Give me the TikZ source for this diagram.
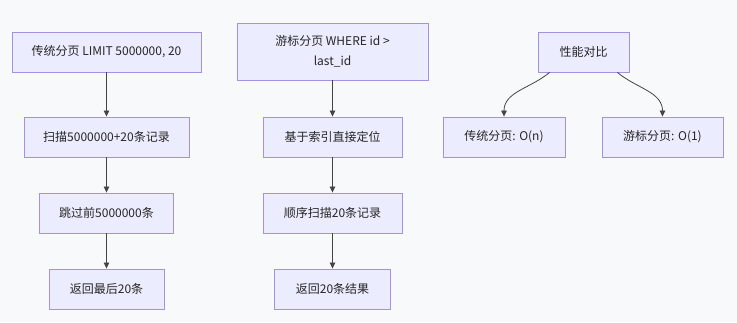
\documentclass[tikz,border=0pt]{standalone}
\usepackage{fontspec}
\setmainfont{Noto Sans CJK SC}
\usepackage{xcolor}
\usetikzlibrary{arrows.meta, positioning}
\definecolor{bgcol}{HTML}{F8F9FB}
\definecolor{boxfill}{HTML}{ECECFF}
\definecolor{boxline}{HTML}{A890E0}
\definecolor{linkcol}{HTML}{444444}

\begin{document}
\begin{tikzpicture}[
    x=1pt, y=-1pt,
    box/.style={
        draw=boxline,
        line width=0.9pt,
        fill=boxfill,
        minimum height=40pt,
        inner sep=0pt,
        align=center,
        font=\fontsize{12}{20}\selectfont,
        text=black!85
    },
    link/.style={
        draw=linkcol,
        line width=0.8pt,
        -{Triangle[length=6pt,width=5.5pt]}
    }
]
% background
\fill[bgcol] (0,0) rectangle (737,322);
\useasboundingbox (0,0) rectangle (737,322);

% traditional paging
\node[box, minimum width=189pt] (t1) at (106.5,52) {传统分页 LIMIT 5000000, 20};
\node[box, minimum width=165pt] (t2) at (106.5,137) {扫描5000000+20条记录};
\node[box, minimum width=134pt] (t3) at (106.5,213) {跳过前5000000条};
\node[box, minimum width=115pt] (t4) at (106.5,289) {返回最后20条};

% cursor paging
\node[box, minimum width=191pt, minimum height=57pt] (c1) at (332.5,51.5)
    {游标分页 WHERE id >\\last\_id};
\node[box, minimum width=139pt] (c2) at (332.5,137) {基于索引直接定位};
\node[box, minimum width=139pt] (c3) at (332.5,213) {顺序扫描20条记录};
\node[box, minimum width=116pt] (c4) at (332.5,289) {返回20条结果};

% comparison
\node[box, minimum width=91pt] (perf) at (583.5,52) {性能对比};
\node[box, minimum width=122pt] (pt) at (504,137) {传统分页: O(n)};
\node[box, minimum width=121pt] (pc) at (662.5,137) {游标分页: O(1)};

% links
\foreach \a/\b in {t1/t2,t2/t3,t3/t4,c1/c2,c2/c3,c3/c4}
    \draw[link] (\a) -- (\b);
\draw[link] ([xshift=12pt]perf.south west) to[out=-140, in=90] (pt.north);
\draw[link] ([xshift=-12pt]perf.south east) to[out=-40, in=90] (pc.north);
\end{tikzpicture}
\end{document}
